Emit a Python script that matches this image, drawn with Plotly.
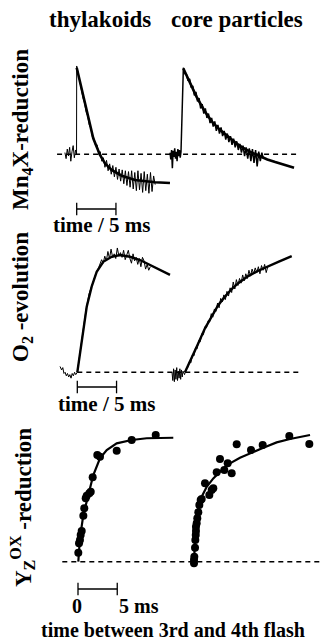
import plotly.graph_objects as go

W, H = 321, 643
SX = 7.85  # px per ms

# ---------------- data ----------------
# Row 1: Mn4X-reduction (relative amplitude), time in ms after flash
mn_thy_meas_t = [-1.5, -1.35, -1.2, -1.05, -0.9, -0.75, -0.6, -0.45, -0.3, -0.15, -0.02, 0.0,
                 0.2, 0.4, 0.6, 0.8, 1.0, 1.2, 1.4, 1.6, 1.8, 2.0, 2.2, 2.4, 2.6, 2.8, 3.0, 3.2, 3.4,
                 3.6, 3.8, 4.0, 4.2, 4.4, 4.6, 4.8, 5.0, 5.2, 5.4, 5.6, 5.8, 6.0, 6.2, 6.4, 6.6, 6.8,
                 7.0, 7.2, 7.4, 7.6, 7.8, 8.0, 8.2, 8.4, 8.6, 8.8, 9.0, 9.2, 9.4, 9.6, 9.8, 10.0]
mn_thy_meas_v = [0.02, -0.05, 0.06, -0.02, 0.08, -0.08, 0.03, 0.1, -0.04, 0.05, 0.0, 1.02,
                 0.93, 0.83, 0.76, 0.65, 0.59, 0.49, 0.44, 0.34, 0.30, 0.20, 0.18, 0.10, 0.11, 0.0, 0.03, -0.08, -0.04,
                 -0.15, -0.07, -0.19, -0.11, -0.23, -0.13, -0.26, -0.15, -0.29, -0.17, -0.31, -0.18, -0.34, -0.19, -0.36, -0.20, -0.38,
                 -0.19, -0.40, -0.21, -0.42, -0.19, -0.41, -0.22, -0.44, -0.20, -0.42, -0.23, -0.45, -0.21, -0.43, -0.25, -0.35]
mn_thy_fit_t = [0.0, 0.42, 0.84, 1.27, 1.69, 2.11, 2.54, 2.97, 3.6, 4.45, 5.73, 7.43, 9.97, 11.88]
mn_thy_fit_v = [1.0, 0.838, 0.646, 0.473, 0.319, 0.185, 0.088, -0.008, -0.104, -0.181, -0.247, -0.297, -0.323, -0.331]

mn_core_meas_t = [-1.4, -1.3, -1.2, -1.1, -1.0, -0.9, -0.8, -0.7, -0.6, -0.5, -0.4, -0.3, -0.2, -0.1, 0.0, 0.1, 0.2, 0.3,
                  0.5, 0.7, 0.9, 1.1, 1.3, 1.5, 1.7, 1.9, 2.1, 2.3, 2.5, 2.7, 2.9, 3.1, 3.3, 3.5, 3.7, 3.9,
                  4.1, 4.3, 4.5, 4.7, 4.9, 5.1, 5.3, 5.5, 5.7, 5.9, 6.1, 6.3, 6.5, 6.7, 6.9, 7.1, 7.3, 7.5,
                  7.7, 7.9, 8.1, 8.3, 8.5, 8.7, 8.9, 9.1, 9.3, 9.5, 9.7, 9.9, 10.1, 10.3, 10.5]
mn_core_meas_v = [0.02, -0.06, 0.05, -0.16, 0.04, -0.03, 0.07, -0.05, 0.03, -0.08, 0.06, -0.02, 0.05, -0.04, 0.03, 0.5, 0.9, 1.0,
                  0.93, 0.92, 0.85, 0.87, 0.77, 0.79, 0.68, 0.72, 0.61, 0.65, 0.53, 0.58, 0.47, 0.53, 0.42, 0.47, 0.36, 0.42,
                  0.32, 0.38, 0.27, 0.34, 0.24, 0.31, 0.21, 0.27, 0.17, 0.24, 0.14, 0.21, 0.11, 0.18, 0.08, 0.15, 0.05, 0.12,
                  0.02, 0.10, -0.02, 0.08, -0.05, 0.07, -0.08, 0.06, -0.10, 0.05, -0.14, 0.03, -0.08, 0.02, -0.05]
mn_core_fit_t = [0.3, 1.0, 2.0, 3.0, 4.0, 5.0, 6.0, 7.0, 8.0, 9.0, 10.0, 11.0, 12.0, 13.0, 14.4]
mn_core_fit_v = [0.99, 0.86, 0.66, 0.50, 0.37, 0.28, 0.20, 0.13, 0.07, 0.02, -0.02, -0.06, -0.09, -0.12, -0.155]

# Row 2: O2-evolution
o2_thy_meas_t = [-2.2, -2.0, -1.85, -1.7, -1.55, -1.4, -1.25, -1.1, -0.95, -0.8, -0.65, -0.5, -0.35, -0.2, 0.0,
                 0.3, 0.7, 1.1, 1.5, 1.9, 2.3, 2.7, 2.9, 3.1, 3.3, 3.5, 3.7, 3.9, 4.1, 4.3, 4.5, 4.7, 4.9,
                 5.1, 5.3, 5.5, 5.7, 5.9, 6.1, 6.3, 6.5, 6.7, 6.9, 7.1, 7.3, 7.5, 7.7, 7.9, 8.1, 8.3, 8.5,
                 8.7, 8.9, 9.1, 9.3]
o2_thy_meas_v = [0.05, 0.02, 0.04, -0.01, 0.0, -0.03, -0.01, -0.04, -0.02, -0.05, -0.01, -0.03, 0.0, -0.02, 0.0,
                 0.15, 0.37, 0.53, 0.67, 0.76, 0.83, 0.89, 0.92, 0.96, 0.93, 0.99, 0.95, 1.03, 0.97, 1.05, 0.98, 1.01, 0.97,
                 1.06, 0.99, 1.02, 0.98, 1.04, 0.96, 1.0, 1.04, 0.97, 0.93, 1.01, 0.95, 0.98, 0.92, 0.97, 0.90, 0.98, 0.95,
                 0.88, 0.92, 0.87, 0.90]
o2_thy_fit_t = [0.0, 0.34, 0.76, 1.2, 1.83, 2.47, 3.31, 4.38, 5.44, 6.71, 7.99, 9.26, 10.54, 11.81]
o2_thy_fit_v = [0.0, 0.162, 0.389, 0.559, 0.73, 0.857, 0.942, 0.985, 1.0, 0.985, 0.957, 0.915, 0.872, 0.83]

o2_core_meas_t = [-1.4, -1.3, -1.2, -1.1, -1.0, -0.9, -0.8, -0.7, -0.6, -0.5, -0.4, -0.3, -0.2, -0.1, 0.0, 0.2,
                  0.4, 0.6, 0.8, 1.0, 1.2, 1.4, 1.6, 1.8, 2.0, 2.2, 2.4, 2.6, 2.8, 3.0, 3.2, 3.4, 3.6, 3.8,
                  4.0, 4.2, 4.4, 4.6, 4.8, 5.0, 5.2, 5.4, 5.6, 5.8, 6.0, 6.2, 6.4, 6.6, 6.8, 7.0, 7.2, 7.4,
                  7.6, 7.8, 8.0, 8.2, 8.4, 8.6, 8.8, 9.0, 9.2, 9.4, 9.6, 9.8, 10.0, 10.2, 10.4, 10.6, 10.8]
o2_core_meas_v = [0.0, -0.07, 0.03, -0.08, 0.02, -0.06, 0.04, -0.07, 0.01, -0.05, 0.03, -0.06, 0.02, -0.04, 0.01, -0.02,
                  0.03, 0.04, 0.09, 0.08, 0.15, 0.14, 0.21, 0.20, 0.27, 0.26, 0.33, 0.32, 0.39, 0.38, 0.44, 0.43, 0.50, 0.47,
                  0.54, 0.52, 0.59, 0.55, 0.63, 0.60, 0.66, 0.62, 0.69, 0.65, 0.72, 0.68, 0.77, 0.71, 0.79, 0.74, 0.80, 0.76,
                  0.83, 0.78, 0.84, 0.80, 0.87, 0.82, 0.88, 0.84, 0.89, 0.85, 0.90, 0.84, 0.91, 0.87, 0.92, 0.85, 0.90]
o2_core_fit_t = [0.25, 1.11, 1.95, 2.8, 3.65, 4.5, 5.35, 6.2, 7.04, 8.31, 9.59, 10.86, 12.14, 13.85]
o2_core_fit_v = [0.0, 0.119, 0.247, 0.375, 0.48, 0.574, 0.645, 0.71, 0.76, 0.82, 0.866, 0.906, 0.942, 0.99]

# Row 3: Yz(ox)-reduction vs time between 3rd and 4th flash
yz_thy_pts_t = [0.04, 0.13, 0.25, 0.34, 0.47, 0.68, 0.8, 0.98, 1.11, 1.44, 1.62, 1.87, 2.46, 2.8, 4.93, 6.84, 9.9]
yz_thy_pts_v = [0.072, 0.148, 0.174, 0.214, 0.246, 0.369, 0.428, 0.508, 0.529, 0.549, 0.561, 0.677, 0.856, 0.842, 0.89, 0.976, 1.016]
yz_thy_fit_t = [0.04, 0.25, 0.68, 1.31, 1.95, 2.8, 3.66, 4.93, 6.84, 8.75, 12.14]
yz_thy_fit_v = [0.0, 0.19, 0.375, 0.535, 0.695, 0.829, 0.896, 0.949, 0.976, 0.99, 0.994]

yz_core_pts_t = [0.0, 0.0, 0.04, 0.13, 0.17, 0.22, 0.25, 0.25, 0.34, 0.42, 0.55, 0.68, 0.85, 0.98, 1.4, 1.95,
                 2.25, 2.46, 2.89, 3.31, 3.86, 4.29, 4.8, 5.44, 7.26, 8.75, 12.14, 14.69]
yz_core_pts_v = [-0.013, 0.014, 0.04, 0.112, 0.174, 0.214, 0.246, 0.281, 0.308, 0.348, 0.396, 0.455, 0.495, 0.503, 0.629, 0.535,
                 0.575, 0.589, 0.717, 0.824, 0.735, 0.789, 0.709, 0.941, 0.896, 0.936, 1.008, 0.944]
yz_core_fit_t = [0.0, 0.09, 0.25, 0.55, 0.98, 1.62, 2.46, 3.52, 4.59, 5.86, 7.35, 8.83, 10.53, 12.23, 14.78]
yz_core_fit_v = [0.0, 0.161, 0.321, 0.428, 0.521, 0.601, 0.668, 0.735, 0.789, 0.834, 0.877, 0.914, 0.957, 0.984, 1.016]

# baselines (time extents, ms on the thylakoid time axis of each row)
base1_t = [-2.5, 28.0]
base2_t = [0.0, 28.4]
base3_t = [-2.0, 31.0]
scale_t = [0.0, 5.0]

# ---------------- axes geometry ----------------
def xr(x0):
    return [-x0 / SX, (W - x0) / SX]

def yr(y0, sy):
    return [(y0 - H) / sy, y0 / sy]

row_y = {"y": (154.3, 86.6), "y2": (372.3, 117.3), "y3": (561.7, 124.7)}
col_x = {"x": 76.7, "x2": 181.0, "x3": 77.3, "x4": 183.0, "x5": 78.0, "x6": 194.0}

fig = go.Figure()
BLK = "black"

def line(t, v, xa, ya, w=1.0, dash=None):
    fig.add_trace(go.Scatter(x=t, y=v, xaxis=xa, yaxis=ya, mode="lines",
                             line=dict(color=BLK, width=w, dash=dash), hoverinfo="skip"))

def pts(t, v, xa, ya):
    fig.add_trace(go.Scatter(x=t, y=v, xaxis=xa, yaxis=ya, mode="markers",
                             marker=dict(color=BLK, size=8), hoverinfo="skip"))

def bar(xa, ya, v):
    fig.add_trace(go.Scatter(x=scale_t, y=[v, v], xaxis=xa, yaxis=ya, mode="lines+markers",
                             line=dict(color=BLK, width=1.3),
                             marker=dict(symbol="line-ns", size=9, line=dict(color=BLK, width=1.3)),
                             hoverinfo="skip"))

DASH = "5px,4px"
# row 1
line(base1_t, [0, 0], "x", "y", 1.5, DASH)
line(mn_thy_meas_t, mn_thy_meas_v, "x", "y", 1.0)
line(mn_thy_fit_t, mn_thy_fit_v, "x", "y", 2.6)
line(mn_core_meas_t, mn_core_meas_v, "x2", "y", 1.5)
line(mn_core_fit_t, mn_core_fit_v, "x2", "y", 2.6)
bar("x", "y", (154.3 - 209) / 86.6)
# row 2
line(base2_t, [0, 0], "x3", "y2", 1.5, DASH)
line(o2_thy_meas_t, o2_thy_meas_v, "x3", "y2", 1.0)
line(o2_thy_fit_t, o2_thy_fit_v, "x3", "y2", 2.4)
line(o2_core_meas_t, o2_core_meas_v, "x4", "y2", 1.0)
line(o2_core_fit_t, o2_core_fit_v, "x4", "y2", 2.4)
bar("x3", "y2", (372.3 - 387) / 117.3)
# row 3
line(base3_t, [0, 0], "x5", "y3", 1.5, DASH)
line(yz_thy_fit_t, yz_thy_fit_v, "x5", "y3", 2.2)
pts(yz_thy_pts_t, yz_thy_pts_v, "x5", "y3")
line(yz_core_fit_t, yz_core_fit_v, "x6", "y3", 2.2)
pts(yz_core_pts_t, yz_core_pts_v, "x6", "y3")
bar("x5", "y3", (561.7 - 589) / 124.7)

ax_common = dict(visible=False, domain=[0, 1], fixedrange=True)
layout = dict(width=W, height=H, autosize=False, showlegend=False,
              margin=dict(l=0, r=0, t=0, b=0),
              paper_bgcolor="white", plot_bgcolor="rgba(0,0,0,0)")
for i, (k, x0) in enumerate(col_x.items()):
    name = "xaxis" if k == "x" else "xaxis" + k[1:]
    yk = ["y", "y", "y2", "y2", "y3", "y3"][i]
    layout[name] = dict(ax_common, range=xr(x0), anchor=yk)
for k, (y0, sy) in row_y.items():
    name = "yaxis" if k == "y" else "yaxis" + k[1:]
    layout[name] = dict(ax_common, range=yr(y0, sy), anchor="x")
fig.update_layout(**layout)

FONT = "Liberation Serif"

def txt(s, px, py, size, angle=0):
    fig.add_annotation(text=s, x=px / W, y=1 - py / H, xref="paper", yref="paper",
                       showarrow=False, textangle=angle, xanchor="center", yanchor="middle",
                       font=dict(family=FONT, size=size, color=BLK, weight="bold"))

txt("thylakoids", 100, 20, 23)
txt("core particles", 237, 20, 23)
txt("Mn<sub>4</sub>X-reduction", 22, 130, 23, -90)
txt("O<sub>2</sub> -evolution", 22, 297, 23, -90)
txt("Y<sub>Z</sub><sup>OX</sup> -reduction", 22, 508, 23, -90)
txt("time / 5 ms", 101, 225, 21)
txt("time / 5 ms", 106, 404, 21)
txt("0", 77, 606, 20)
txt("5 ms", 139, 606, 20)
txt("time between 3rd and 4th flash", 173, 630, 20)

fig.write_html("out.html", config={"displayModeBar": False, "staticPlot": True},
               post_script=["document.body.style.margin='0';document.body.style.overflow='hidden';"])
